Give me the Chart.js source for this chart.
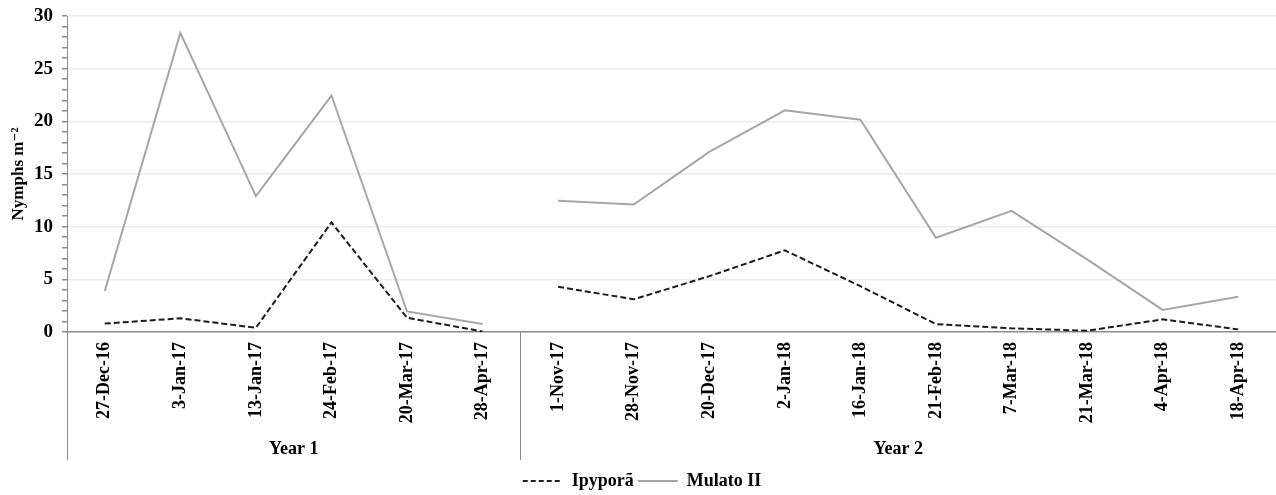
<!DOCTYPE html>
<html>
<head>
<meta charset="utf-8">
<script src="https://cdn.jsdelivr.net/npm/chart.js@4"></script>
<style>
  html, body { margin: 0; padding: 0; background: #ffffff; }
  #wrap { width: 1276px; height: 495px; position: relative; }
</style>
</head>
<body>
<div id="wrap"><canvas id="c" width="1276" height="495"></canvas></div>
<script>
const categories = [
  '27-Dec-16', '3-Jan-17', '13-Jan-17', '24-Feb-17', '20-Mar-17', '28-Apr-17',
  '1-Nov-17', '28-Nov-17', '20-Dec-17', '2-Jan-18', '16-Jan-18', '21-Feb-18',
  '7-Mar-18', '21-Mar-18', '4-Apr-18', '18-Apr-18'
];
const ipypora = [0.8, 1.3, 0.4, 10.4, 1.35, 0.05, 4.3, 3.1, 5.3, 7.75, 4.35, 0.75, 0.35, 0.12, 1.2, 0.25];
const mulato  = [3.9, 28.4, 12.9, 22.45, 1.95, 0.75, 12.45, 12.1, 17.1, 21.05, 20.15, 8.95, 11.5, 6.9, 2.1, 3.35];
const groupLabels = ['Year 1', 'Year 2'];
const groupSizes = [6, 10];
const yMin = 0, yMax = 30, yLabelStep = 5, yMinorStep = 1;

const SERIF = '"Liberation Serif", "DejaVu Serif", serif';
const IPY_COLOR = '#1c1c1c';
const MUL_COLOR = '#a6a6a6';
const AXIS_COLOR = '#8c8c8c';

// break line between the two years
const breakIndex = groupSizes[0] - 1;
function segColor(color) {
  return ctx => (ctx.p0DataIndex === breakIndex ? 'rgba(0,0,0,0)' : color);
}

const groupPlugin = {
  id: 'groups',
  afterLayout(chart) {
    if (chart.legend) {
      chart.legend.top += 5;
      chart.legend.bottom += 5;
    }
  },
  afterDraw(chart) {
    const { ctx, chartArea } = chart;
    const x = chart.scales.x;
    const top = chartArea.bottom;
    const bottom = 460;
    ctx.save();
    ctx.strokeStyle = AXIS_COLOR;
    ctx.lineWidth = 1;
    const bounds = [chartArea.left];
    let idx = 0;
    groupSizes.forEach((n) => {
      idx += n;
      if (idx < categories.length) {
        bounds.push((x.getPixelForValue(idx - 1) + x.getPixelForValue(idx)) / 2);
      } else {
        bounds.push(chartArea.right);
      }
    });
    for (let i = 0; i < bounds.length - 1; i++) {
      const bx = Math.round(bounds[i]) + 0.5;
      ctx.beginPath();
      ctx.moveTo(bx, top);
      ctx.lineTo(bx, bottom);
      ctx.stroke();
    }
    ctx.fillStyle = '#000';
    ctx.font = 'bold 18px ' + SERIF;
    ctx.textAlign = 'center';
    ctx.textBaseline = 'middle';
    groupLabels.forEach((lab, g) => {
      ctx.fillText(lab, (bounds[g] + bounds[g + 1]) / 2, 449);
    });
    ctx.restore();
  }
};

new Chart(document.getElementById('c'), {
  type: 'line',
  data: {
    labels: categories,
    datasets: [
      {
        label: 'Ipyporã',
        data: ipypora,
        borderColor: IPY_COLOR,
        backgroundColor: IPY_COLOR,
        borderWidth: 2,
        borderDash: [6, 3],
        pointRadius: 0,
        pointStyle: 'line',
        tension: 0,
        segment: { borderColor: segColor(IPY_COLOR) }
      },
      {
        label: 'Mulato II',
        data: mulato,
        borderColor: MUL_COLOR,
        backgroundColor: MUL_COLOR,
        borderWidth: 2,
        pointRadius: 0,
        pointStyle: 'line',
        tension: 0,
        segment: { borderColor: segColor(MUL_COLOR) }
      }
    ]
  },
  options: {
    responsive: false,
    animation: false,
    devicePixelRatio: 1,
    layout: { padding: { left: 8, right: 0, top: 16, bottom: 0 } },
    plugins: {
      tooltip: { enabled: false },
      legend: {
        position: 'bottom',
        labels: {
          usePointStyle: true,
          pointStyleWidth: 40,
          color: '#000',
          padding: 4,
          font: { family: SERIF, size: 18, weight: 'bold' },
          generateLabels(chart) {
            const items = Chart.defaults.plugins.legend.labels.generateLabels(chart);
            items.forEach(it => {
              const ds = chart.data.datasets[it.datasetIndex];
              it.lineDash = ds.borderDash ? [5, 3] : [];
              it.lineWidth = 2;
              it.strokeStyle = ds.borderColor;
            });
            return items;
          }
        }
      }
    },
    scales: {
      x: {
        type: 'category',
        offset: true,
        grid: { display: false, drawTicks: false },
        border: { display: true, color: AXIS_COLOR, width: 1.5 },
        ticks: {
          color: '#000',
          minRotation: 90,
          maxRotation: 90,
          padding: 10,
          autoSkip: false,
          font: { family: SERIF, size: 18, weight: 'bold' }
        },
        afterFit(scale) { scale.height = 131; scale.paddingLeft = 0; scale.paddingRight = 0; }
      },
      y: {
        min: yMin,
        max: yMax,
        border: { display: true, color: AXIS_COLOR, width: 1 },
        grid: {
          color: ctx => (ctx.tick && ctx.tick.value % yLabelStep === 0 && ctx.tick.value !== 0 ? '#ececec' : 'rgba(0,0,0,0)'),
          tickColor: AXIS_COLOR,
          tickLength: 5,
          lineWidth: 1.5
        },
        ticks: {
          stepSize: yMinorStep,
          color: '#000',
          padding: 9,
          autoSkip: false,
          font: { family: SERIF, size: 19, weight: 'bold' },
          callback: v => (v % yLabelStep === 0 ? String(v) : '')
        },
        title: {
          display: true,
          text: 'Nymphs m⁻²',
          color: '#000',
          padding: { top: 0, bottom: 0 },
          font: { family: SERIF, size: 17, weight: 'bold' }
        },
        afterFit(scale) { scale.width = 59; scale.paddingTop = 0; scale.paddingBottom = 0; }
      }
    }
  },
  plugins: [groupPlugin]
});
</script>
</body>
</html>
